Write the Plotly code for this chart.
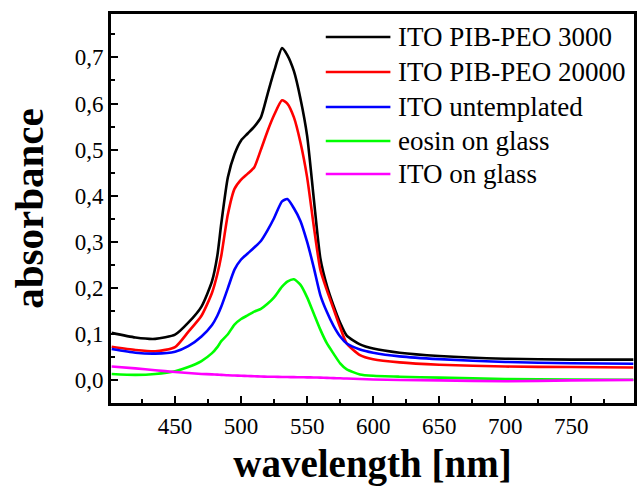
import plotly.graph_objects as go

wavelength = [402, 420, 435, 450, 460, 470, 478, 482, 485, 490, 495, 500, 505, 510, 515, 520,
              525, 531, 535, 540, 545, 550, 555, 560, 565, 570, 575, 580, 590, 600, 620, 650,
              700, 750, 797]

ito_pibpeo_3000 = [0.103, 0.093, 0.090, 0.099, 0.125, 0.160, 0.215, 0.27, 0.34, 0.44, 0.49, 0.52,
                   0.535, 0.55, 0.57, 0.62, 0.67, 0.72, 0.705, 0.67, 0.61, 0.53, 0.395, 0.265, 0.205,
                   0.162, 0.125, 0.097, 0.078, 0.069, 0.060, 0.053, 0.047, 0.045, 0.045]

ito_pibpeo_20000 = [0.073, 0.066, 0.063, 0.072, 0.105, 0.140, 0.190, 0.23, 0.27, 0.36, 0.415, 0.435,
                    0.448, 0.462, 0.50, 0.54, 0.575, 0.607, 0.60, 0.57, 0.515, 0.44, 0.335, 0.24,
                    0.195, 0.155, 0.115, 0.08, 0.055, 0.046, 0.039, 0.034, 0.030, 0.029, 0.028]

ito_untemplated = [0.068, 0.060, 0.058, 0.062, 0.074, 0.095, 0.120, 0.14, 0.16, 0.20, 0.24, 0.262,
                   0.275, 0.288, 0.302, 0.325, 0.352, 0.388, 0.393, 0.373, 0.345, 0.30, 0.245, 0.185,
                   0.148, 0.118, 0.095, 0.080, 0.067, 0.060, 0.052, 0.046, 0.040, 0.037, 0.036]

eosin_on_glass = [0.014, 0.012, 0.014, 0.020, 0.029, 0.042, 0.059, 0.072, 0.085, 0.100, 0.121, 0.133,
                  0.141, 0.149, 0.155, 0.166, 0.180, 0.203, 0.214, 0.219, 0.207, 0.180, 0.145, 0.110,
                  0.080, 0.058, 0.037, 0.024, 0.013, 0.010, 0.008, 0.006, 0.003, 0.002, 0.0015]

ito_on_glass = [0.030, 0.026, 0.022, 0.018, 0.016, 0.014, 0.013, 0.0125, 0.012, 0.011, 0.0105, 0.010,
                0.0095, 0.009, 0.0085, 0.008, 0.0078, 0.0075, 0.0072, 0.007, 0.0068, 0.0066, 0.0064,
                0.006, 0.0055, 0.005, 0.0045, 0.004, 0.003, 0.002, 0.001, 0.0, -0.002, 0.0, 0.001]

series_names = ["ITO PIB-PEO 3000", "ITO PIB-PEO 20000", "ITO untemplated",
                "eosin on glass", "ITO on glass"]
series_values = [ito_pibpeo_3000, ito_pibpeo_20000, ito_untemplated, eosin_on_glass, ito_on_glass]
series_colors = ["#000000", "#FF0000", "#0000FF", "#00FF00", "#FF00FF"]

FONT = "Liberation Serif"

fig = go.Figure()
for name, vals, col in zip(series_names, series_values, series_colors):
    fig.add_trace(go.Scatter(x=wavelength, y=vals, name=name, mode="lines",
                             line=dict(color=col, width=2.6, shape="spline", smoothing=0.6),
                             showlegend=False))

# custom legend (long sample lines like the original)
W, H = 526.0, 389.0
L, T = 111.0, 14.0
row_px = [37, 72, 107, 141, 174]
for name, col, py in zip(series_names, series_colors, row_px):
    yp = 1 - (py - T) / H
    fig.add_shape(type="line", xref="paper", yref="paper",
                  x0=(327 - L) / W, x1=(392 - L) / W, y0=yp, y1=yp,
                  line=dict(color=col, width=2.6))
    fig.add_annotation(xref="paper", yref="paper", x=(398 - L) / W, y=yp,
                       text=name, showarrow=False, xanchor="left", yanchor="middle",
                       font=dict(family=FONT, size=27, color="black"))

axis_common = dict(showline=True, linecolor="black", linewidth=3, mirror=True,
                   ticks="inside", ticklen=7, tickwidth=2, tickcolor="black",
                   showgrid=False, zeroline=False,
                   tickfont=dict(family=FONT, size=23, color="black"))

fig.update_xaxes(range=[401.5, 797.5], dtick=50, tick0=450,
                 minor=dict(ticks="inside", ticklen=4, tickwidth=2, dtick=25, tick0=425, tickcolor="black"),
                 title=dict(text="<b>wavelength [nm]</b>", standoff=13,
                            font=dict(family=FONT, size=39, color="black")),
                 **axis_common)
fig.update_yaxes(range=[-0.049, 0.794], dtick=0.1, tick0=0, tickformat=".1f",
                 minor=dict(ticks="inside", ticklen=4, tickwidth=2, dtick=0.05, tick0=0, tickcolor="black"),
                 title=dict(text="<b>absorbance</b>", standoff=19,
                            font=dict(family=FONT, size=41, color="black")),
                 **axis_common)

fig.update_layout(width=638, height=488, separators=",.",
                  margin=dict(l=111, r=1, t=14, b=85),
                  paper_bgcolor="white", plot_bgcolor="white",
                  font=dict(family=FONT, color="black"))

fig.write_html("out.html", config={"displayModeBar": False},
               post_script="document.body.style.margin='0';")
